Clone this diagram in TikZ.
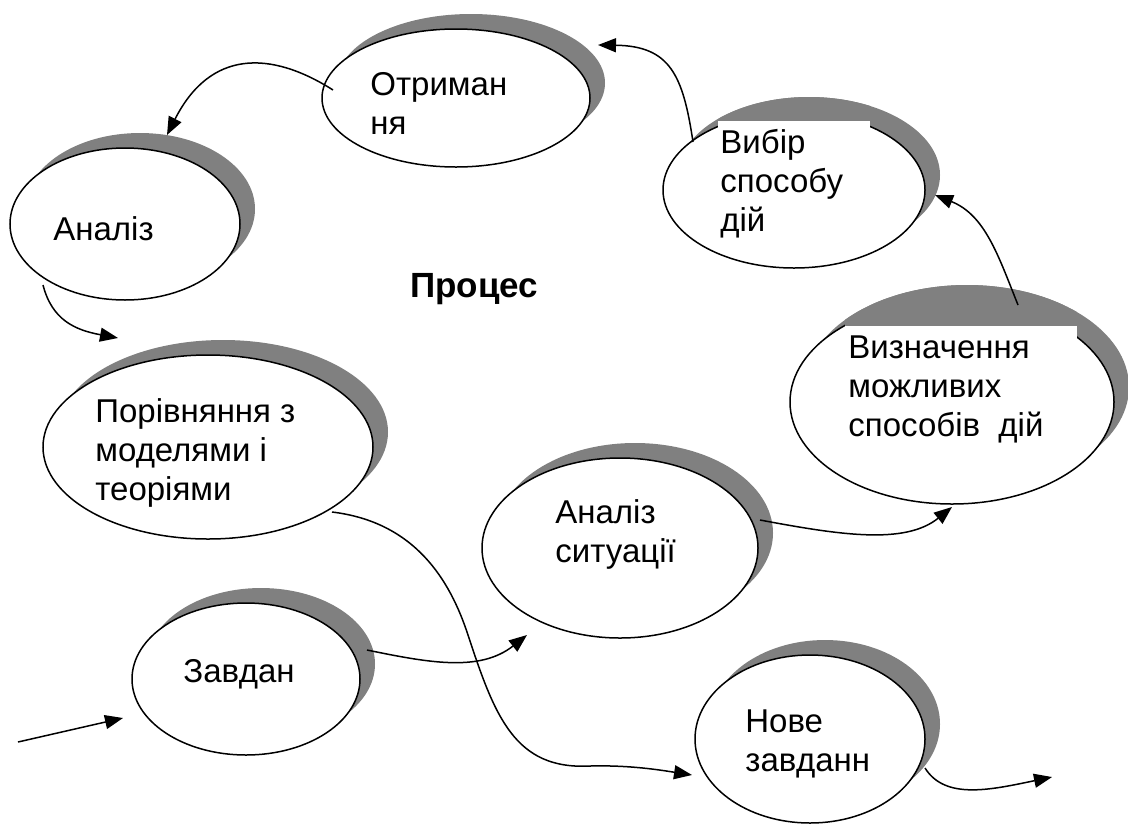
\documentclass[tikz,border=0pt]{standalone}
\usepackage{fontspec}
\setmainfont{Liberation Sans}
\usetikzlibrary{shapes.geometric,shadows,arrows.meta}
\definecolor{shgray}{RGB}{128,128,128}
\tikzset{
  oval/.style={ellipse, draw, line width=0.75pt, fill=white, inner sep=0pt,
    general shadow={fill=shgray, shadow xshift=7.5pt, shadow yshift=7.5pt}},
  lbl/.style={anchor=base west, inner sep=0pt, font=\fontsize{16.5}{19.5}\selectfont},
  arr/.style={line width=0.75pt, -{Triangle[length=9pt,width=7pt]}},
}
\begin{document}
\begin{tikzpicture}[x=0.5pt, y=-0.5pt]
\useasboundingbox (0,0) rectangle (1128,825);
% ellipses
\node[oval, minimum width=134pt, minimum height=69pt] (otr) at (456,98) {};
\node[oval, minimum width=115pt, minimum height=76pt] (an) at (125,224) {};
\node[oval, minimum width=131pt, minimum height=78pt] (vyb) at (794,190) {};
\node[oval, minimum width=162pt, minimum height=102pt] (vyz) at (952,402) {};
\node[oval, minimum width=165pt, minimum height=92pt] (por) at (208,447) {};
\node[oval, minimum width=138pt, minimum height=90pt] (sit) at (620,548) {};
\node[oval, minimum width=114pt, minimum height=76pt] (zav) at (246,679) {};
\node[oval, minimum width=115pt, minimum height=84pt] (nov) at (810,739) {};
% white text boxes overlapping
\fill[white] (718,120) rectangle (870,240);
\begin{scope}
  \clip (718,80) rectangle (870,120);
  \fill[shgray] ([shift={(7.5pt,7.5pt)}]vyb.center) ellipse [x radius=65.5pt, y radius=39pt];
\end{scope}
\fill[white] (845,325) rectangle (1077,465);
\begin{scope}
  \clip (845,260) rectangle (1077,325);
  \fill[shgray] ([shift={(7.5pt,7.5pt)}]vyz.center) ellipse [x radius=81pt, y radius=51pt];
\end{scope}
% labels
\node[lbl] (totr) at (370,95) {\vtop{\hbox{Отриман}\hbox{ня}}};
\node[lbl] (tan) at (53,240) {Аналіз};
\node[lbl] (tvyb) at (720,153) {\vtop{\hbox{Вибір}\hbox{способу}\hbox{дій}}};
\node[lbl] (tvyz) at (848,358) {\vtop{\hbox{Визначення}\hbox{можливих}\hbox{способів\ \ дій}}};
\node[lbl] (tpor) at (95,422) {\vtop{\hbox{Порівняння з}\hbox{моделями і}\hbox{теоріями}}};
\node[lbl] (tsit) at (555,523) {\vtop{\hbox{Аналіз}\hbox{ситуації}}};
\node[lbl] (tzav) at (183,682) {Завдан};
\node[lbl] (tnov) at (745,732) {\vtop{\hbox{Нове}\hbox{завданн}}};
\node[anchor=base west, inner sep=0pt, font=\fontsize{17.5}{20}\selectfont\bfseries] (proc) at (410,297) {Процес};
% connectors
\coordinate (src) at (18,742);
\coordinate (dst) at (1052,777);
\draw[arr] (src) -- ([shift={(-123,39)}]zav.center);
\draw[arr] ([shift={(121,-29)}]zav.center) .. controls (430,663) and (480,672) .. ([shift={(-93,87)}]sit.center);
\draw[arr] ([shift={(124,65)}]por.center) .. controls (415,522) and (450,580) .. (468,635)
  .. controls (495,717) and (515,770) .. (590,766)
  .. controls (630,765) and (660,770) .. ([shift={(-118,36)}]nov.center);
\draw[arr] ([shift={(140,-28)}]sit.center) .. controls (840,535) and (905,545) .. ([shift={(0,105)}]vyz.center);
\draw[arr] ([shift={(66,-97)}]vyz.center) .. controls (998,255) and (985,215) .. ([shift={(141,5)}]vyb.center);
\draw[arr] ([shift={(-101,-48)}]vyb.center) .. controls (683,75) and (670,46) .. ([shift={(142,-53)}]otr.center);
\draw[arr] ([shift={(-123,-8)}]otr.center) .. controls (270,50) and (210,50) .. ([shift={(42,-89)}]an.center);
\draw[arr] ([shift={(-82,61)}]an.center) .. controls (52,320) and (75,330) .. ([shift={(-90,-109)}]por.center);
\draw[arr] ([shift={(115,29)}]nov.center) .. controls (945,800) and (990,790) .. (dst);
\end{tikzpicture}
\end{document}
